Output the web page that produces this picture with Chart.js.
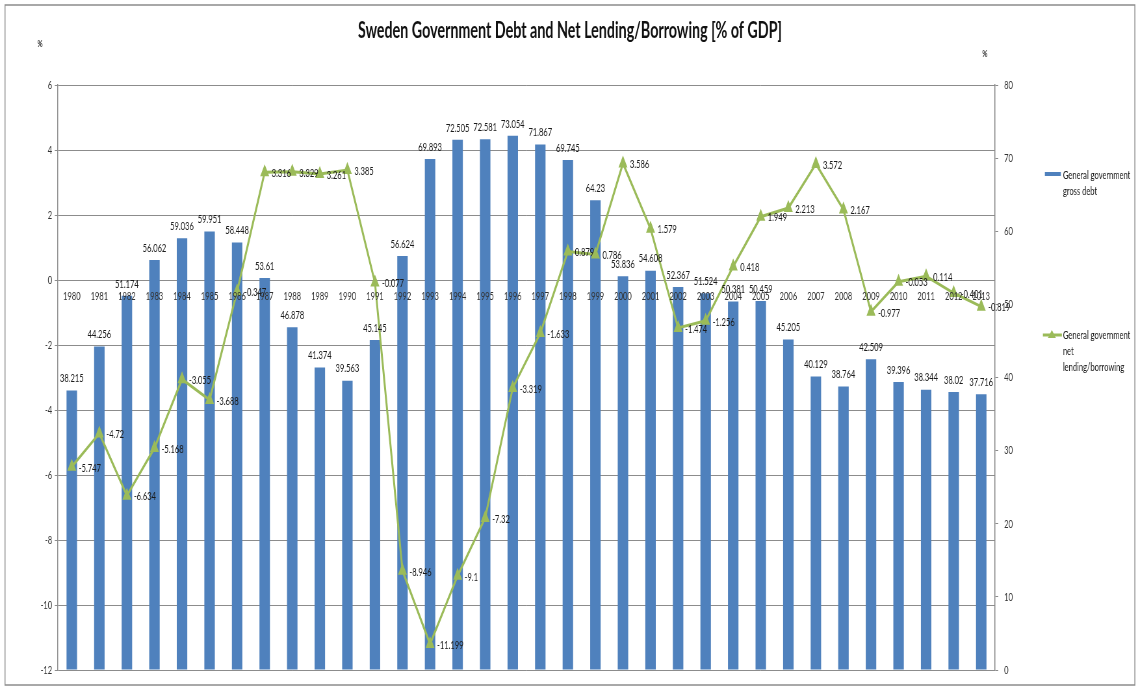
<!DOCTYPE html>
<html>
<head>
<meta charset="utf-8">
<script src="https://cdn.jsdelivr.net/npm/chart.js@4.4.1/dist/chart.umd.min.js"></script>
<style>
  html, body { margin: 0; padding: 0; background: #fff; }
  #wrap { width: 1138px; height: 686px; position: relative; overflow: hidden; }
  #debtChart { width: 1138px; height: 686px; }
</style>
</head>
<body>
<div id="wrap"><canvas id="debtChart" width="1751" height="686" style="width:1138px;height:686px"></canvas></div>
<script>
// Sweden: general government gross debt and net lending/borrowing, % of GDP
const years = ['1980', '1981', '1982', '1983', '1984', '1985', '1986', '1987', '1988', '1989',
    '1990', '1991', '1992', '1993', '1994', '1995', '1996', '1997', '1998', '1999',
    '2000', '2001', '2002', '2003', '2004', '2005', '2006', '2007', '2008', '2009',
    '2010', '2011', '2012', '2013'];

const grossDebt = [38.215, 44.256, 51.174, 56.062, 59.036, 59.951, 58.448, 53.61, 46.878, 41.374,
    39.563, 45.145, 56.624, 69.893, 72.505, 72.581, 73.054, 71.867, 69.745, 64.23,
    53.836, 54.608, 52.367, 51.524, 50.381, 50.459, 45.205, 40.129, 38.764, 42.509,
    39.396, 38.344, 38.02, 37.716];

const netLending = [-5.747, -4.72, -6.634, -5.168, -3.055, -3.688, -0.347, 3.316, 3.329, 3.261,
    3.385, -0.077, -8.946, -11.199, -9.1, -7.32, -3.319, -1.633, 0.879, 0.786,
    3.586, 1.579, -1.474, -1.256, 0.418, 1.949, 2.213, 3.572, 2.167, -0.977,
    -0.053, 0.114, -0.401, -0.819];

const seriesNames = ['General government gross debt', 'General government net lending/borrowing'];

// The canvas is drawn wider than it is shown and squeezed by CSS,
// so every horizontal layout value goes through px().
const SX = 0.65;
const px = x => x / SX;

const FONT = 'Lato, "Liberation Sans", sans-serif';
const BLUE = '#4F81BD';
const GREEN = '#9BBB59';
const GRID = '#8c8c8c';
const TEXT = '#1a1a1a';

Chart.defaults.font.family = FONT;
Chart.defaults.color = '#333';

// value labels: above each bar, to the right of each line point
const valueLabels = {
    id: 'valueLabels',
    afterDatasetsDraw(chart) {
        const ctx = chart.ctx;
        ctx.save();
        ctx.font = '11.6px ' + FONT;
        ctx.fillStyle = TEXT;
        ctx.textBaseline = 'middle';

        const bars = chart.getDatasetMeta(0);
        ctx.textAlign = 'center';
        bars.data.forEach((el, i) => {
            ctx.fillText(String(grossDebt[i]), el.x, el.y - 12);
        });

        const pts = chart.getDatasetMeta(1);
        ctx.textAlign = 'left';
        pts.data.forEach((el, i) => {
            ctx.fillText(String(netLending[i]), el.x + px(7), el.y + 1);
        });
        ctx.restore();
    }
};

// frame, title, unit marks and the legend on the right
const decorations = {
    id: 'decorations',
    beforeDraw(chart) {
        const ctx = chart.ctx;
        ctx.save();
        ctx.fillStyle = '#fff';
        ctx.fillRect(0, 0, chart.width, chart.height);
        ctx.restore();
    },
    afterDraw(chart) {
        const ctx = chart.ctx;
        ctx.save();

        ctx.strokeStyle = '#8c8c8c';
        ctx.lineWidth = 1.5;
        ctx.strokeRect(px(5), 5, px(1130), 680);

        ctx.fillStyle = '#111';
        ctx.font = 'bold 22px ' + FONT;
        ctx.textAlign = 'center';
        ctx.textBaseline = 'middle';
        ctx.fillText('Sweden Government Debt and Net Lending/Borrowing [% of GDP]', px(570), 31);

        ctx.font = 'bold 10px ' + FONT;
        ctx.fillStyle = '#333';
        ctx.fillText('%', px(40), 44);
        ctx.fillText('%', px(985), 54);

        // legend
        const lx = px(1045);
        const tx = px(1063);
        ctx.font = '11.6px ' + FONT;
        ctx.textAlign = 'left';

        ctx.fillStyle = BLUE;
        ctx.fillRect(lx, 172, px(16), 4);
        ctx.fillStyle = TEXT;
        ctx.fillText('General government', tx, 175);
        ctx.fillText('gross debt', tx, 191);

        ctx.strokeStyle = GREEN;
        ctx.lineWidth = 3;
        ctx.beginPath();
        ctx.moveTo(px(1043), 335);
        ctx.lineTo(px(1062), 335);
        ctx.stroke();
        ctx.fillStyle = GREEN;
        ctx.beginPath();
        ctx.moveTo(px(1052), 330);
        ctx.lineTo(px(1056), 338);
        ctx.lineTo(px(1048), 338);
        ctx.closePath();
        ctx.fill();
        ctx.fillStyle = TEXT;
        ctx.fillText('General government', tx, 335);
        ctx.fillText('net', tx, 351);
        ctx.fillText('lending/borrowing', tx, 367);

        ctx.restore();
    }
};

new Chart(document.getElementById('debtChart'), {
    data: {
        labels: years,
        datasets: [
            {
                type: 'bar',
                label: seriesNames[0],
                data: grossDebt,
                yAxisID: 'y1',
                backgroundColor: BLUE,
                barPercentage: 0.38,
                categoryPercentage: 1,
                order: 2
            },
            {
                type: 'line',
                label: seriesNames[1],
                data: netLending,
                yAxisID: 'y',
                borderColor: GREEN,
                borderWidth: 3,
                backgroundColor: GREEN,
                pointStyle: 'triangle',
                pointRadius: 5,
                pointBackgroundColor: GREEN,
                pointBorderColor: GREEN,
                tension: 0,
                order: 1
            }
        ]
    },
    options: {
        responsive: false,
        animation: false,
        devicePixelRatio: 1,
        layout: { padding: { top: 85, bottom: 11, left: 0, right: 0 } },
        plugins: {
            legend: { display: false },
            title: { display: false },
            tooltip: { enabled: false }
        },
        scales: {
            x: {
                type: 'category',
                position: { y: 0 },
                offset: true,
                grid: { display: false, drawTicks: false },
                border: { display: false },
                ticks: {
                    z: 1, // year labels sit on top of the bars
                    font: { size: 11.6 },
                    color: '#333',
                    padding: 9,
                    maxRotation: 0,
                    autoSkip: false
                }
            },
            y: {
                position: 'left',
                min: -12,
                max: 6,
                grid: { color: GRID, lineWidth: 1, tickLength: 5 },
                border: { display: true, color: GRID, width: 1.5 },
                ticks: { stepSize: 2, font: { size: 11.6 }, color: '#333', padding: 4 },
                afterFit(scale) { scale.width = px(58); }
            },
            y1: {
                position: 'right',
                min: 0,
                max: 80,
                grid: { drawOnChartArea: false, color: GRID, tickLength: 5 },
                border: { display: true, color: GRID, width: 1.5 },
                ticks: { stepSize: 10, font: { size: 11.6 }, color: '#333', padding: 9 },
                afterFit(scale) { scale.width = px(1138 - 995); }
            }
        }
    },
    plugins: [decorations, valueLabels]
});
</script>
</body>
</html>
